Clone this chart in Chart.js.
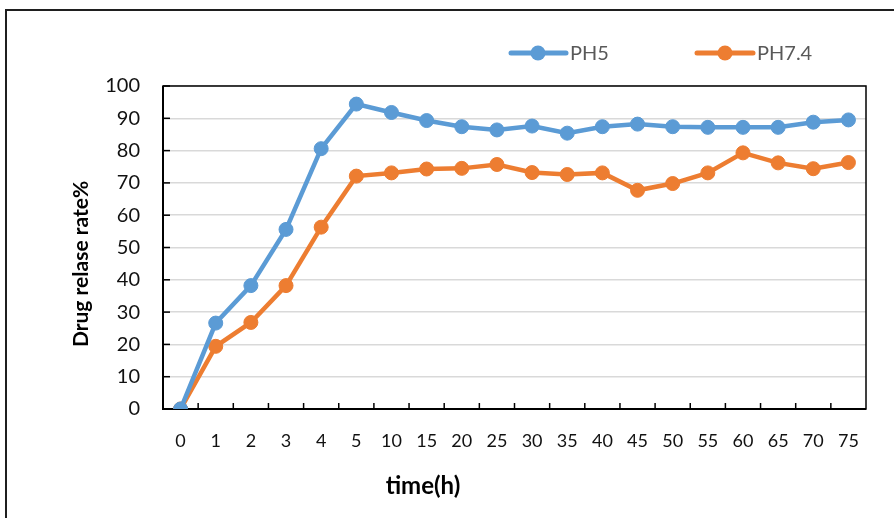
<!DOCTYPE html>
<html>
<head>
<meta charset="utf-8">
<script src="https://cdn.jsdelivr.net/npm/chart.js@4/dist/chart.umd.min.js"></script>
<style>
html,body{margin:0;padding:0;background:#fff;overflow:hidden;}
#wrap{position:absolute;left:0;top:0;width:894px;height:518px;}
</style>
</head>
<body>
<div id="wrap"><canvas id="c" width="894" height="518"></canvas></div>
<script>
// ---- data ----
const categories = ['0','1','2','3','4','5','10','15','20','25','30','35','40','45','50','55','60','65','70','75'];
const ph5Values  = [0, 26.6, 38.2, 55.6, 80.6, 94.4, 91.8, 89.3, 87.4, 86.4, 87.6, 85.4, 87.4, 88.2, 87.4, 87.2, 87.2, 87.2, 88.8, 89.5];
const ph74Values = [0, 19.4, 26.8, 38.2, 56.3, 72.1, 73.1, 74.3, 74.5, 75.7, 73.2, 72.6, 73.1, 67.7, 69.8, 73.1, 79.3, 76.2, 74.4, 76.3];
const seriesNames = ['PH5', 'PH7.4'];
const seriesColors = ['#5B9BD5', '#ED7D31'];
const yTitle = 'Drug relase rate%';
const xTitle = 'time(h)';

const bgAndFrame = {
  id: 'bgAndFrame',
  beforeDraw(chart) {
    const ctx = chart.ctx;
    ctx.save();
    ctx.fillStyle = '#fff';
    ctx.fillRect(0, 0, chart.width, chart.height);
    ctx.strokeStyle = '#1f1f1f';
    ctx.lineWidth = 2;
    ctx.strokeRect(6, 10, 2000, 2000);
    ctx.restore();
  },
  beforeDatasetsDraw(chart) {
    const ctx = chart.ctx;
    const a = chart.chartArea;
    const xs = chart.scales.x, ys = chart.scales.y;
    ctx.save();
    ctx.strokeStyle = '#000';
    ctx.lineWidth = 1.5;
    ctx.strokeRect(a.left, a.top, a.right - a.left, a.bottom - a.top);
    ctx.lineWidth = 2;
    ctx.beginPath();
    ctx.moveTo(a.left, a.top); ctx.lineTo(a.left, a.bottom); ctx.lineTo(a.right, a.bottom);
    ctx.stroke();
    // inner y ticks
    ctx.lineWidth = 1.5;
    ys.ticks.forEach(t => {
      const y = ys.getPixelForValue(t.value);
      ctx.beginPath(); ctx.moveTo(a.left, y); ctx.lineTo(a.left + 7, y); ctx.stroke();
    });
    // inner x ticks (between categories)
    for (let i = 1; i < categories.length; i++) {
      const x = (xs.getPixelForValue(i - 1) + xs.getPixelForValue(i)) / 2;
      ctx.beginPath(); ctx.moveTo(x, a.bottom); ctx.lineTo(x, a.bottom - 6); ctx.stroke();
    }
    ctx.restore();
  },
  afterDraw(chart) {
    const ctx = chart.ctx;
    ctx.save();
    // axis titles
    ctx.fillStyle = '#000';
    ctx.font = 'bold 21px Lato';
    ctx.textAlign = 'center';
    ctx.textBaseline = 'middle';
    ctx.translate(81, 264);
    ctx.rotate(-Math.PI / 2);
    ctx.fillText(yTitle, 0, 0);
    ctx.setTransform(1, 0, 0, 1, 0, 0);
    ctx.font = 'bold 24px Lato';
    ctx.textBaseline = 'alphabetic';
    ctx.fillText(xTitle, 423, 494);
    // legend
    const items = [{x0: 511, x1: 566, cx: 538, tx: 570}, {x0: 697, x1: 753, cx: 725, tx: 757}];
    const ly = 53;
    chart.data.datasets.forEach((ds, i) => {
      const it = items[i];
      ctx.strokeStyle = ds.borderColor;
      ctx.lineWidth = 5;
      ctx.lineCap = 'round';
      ctx.beginPath(); ctx.moveTo(it.x0, ly); ctx.lineTo(it.x1, ly); ctx.stroke();
      ctx.fillStyle = ds.backgroundColor;
      ctx.beginPath(); ctx.arc(it.cx, ly, 7.5, 0, Math.PI * 2); ctx.fill();
      ctx.fillStyle = '#595959';
      ctx.font = '20px Lato';
      ctx.textAlign = 'left';
      ctx.textBaseline = 'middle';
      ctx.fillText(ds.label, it.tx, ly + 1);
    });
    ctx.restore();
  }
};

new Chart(document.getElementById('c'), {
  type: 'line',
  data: {
    labels: categories,
    datasets: [
      { label: seriesNames[0], data: ph5Values, borderColor: seriesColors[0], backgroundColor: seriesColors[0],
        pointBackgroundColor: seriesColors[0], pointBorderColor: seriesColors[0], borderWidth: 4.5, pointRadius: 7, pointBorderWidth: 1, tension: 0 },
      { label: seriesNames[1], data: ph74Values, borderColor: seriesColors[1], backgroundColor: seriesColors[1],
        pointBackgroundColor: seriesColors[1], pointBorderColor: seriesColors[1], borderWidth: 4.5, pointRadius: 7, pointBorderWidth: 1, tension: 0 }
    ]
  },
  options: {
    responsive: false,
    animation: false,
    devicePixelRatio: 1,
    layout: { padding: { top: 86, right: 28, bottom: 0, left: 0 } },
    plugins: { legend: { display: false }, tooltip: { enabled: false } },
    scales: {
      x: {
        type: 'category',
        offset: true,
        grid: { display: false, offset: true },
        border: { display: false },
        ticks: { font: { family: 'Lato', size: 18 }, color: '#111', padding: 13, maxRotation: 0, autoSkip: false },
        afterFit(s) { s.height = 109; }
      },
      y: {
        min: 0, max: 100,
        grid: { color: '#d9d9d9', lineWidth: 1.5, drawTicks: false },
        border: { display: false },
        ticks: { stepSize: 10, font: { family: 'Lato', size: 20 }, color: '#111', padding: 23 },
        afterFit(s) { s.width = 163; }
      }
    }
  },
  plugins: [bgAndFrame]
});
</script>
</body>
</html>
